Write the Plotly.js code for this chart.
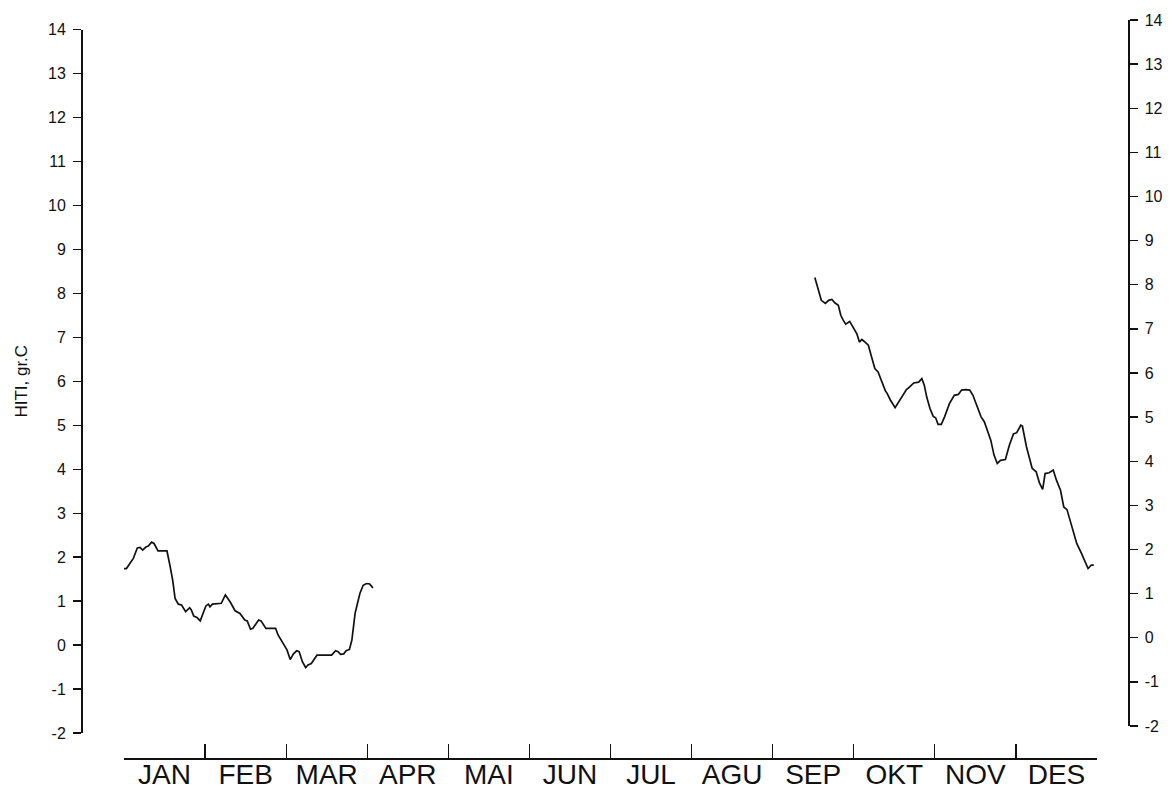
<!DOCTYPE html>
<html>
<head>
<meta charset="utf-8">
<script src="https://cdn.plot.ly/plotly-3.0.1.min.js"></script>
<style>
  html, body { margin: 0; padding: 0; background: #fff; }
  #chart { width: 1173px; height: 791px; }
</style>
</head>
<body>
<div id="chart"></div>
<script>
// Month labels (Norwegian)
const months = ["JAN", "FEB", "MAR", "APR", "MAI", "JUN", "JUL", "AGU", "SEP", "OKT", "NOV", "DES"];

// Y tick values and labels
const yTickVals = [-2, -1, 0, 1, 2, 3, 4, 5, 6, 7, 8, 9, 10, 11, 12, 13, 14];
const yTickText = ["-2", "-1", "0", "1", "2", "3", "4", "5", "6", "7", "8", "9", "10", "11", "12", "13", "14"];

// Segment 1: January - March (x in months from 1 Jan, y = HITI gr.C)
const winterX = [0.00, 0.03, 0.115, 0.164, 0.197, 0.23, 0.27, 0.30, 0.34, 0.37, 0.42, 0.53, 0.57, 0.60, 0.63, 0.67, 0.71, 0.76, 0.81, 0.83, 0.86, 0.90, 0.94, 0.98, 1.01, 1.04, 1.06, 1.09, 1.20, 1.25, 1.31, 1.37, 1.43, 1.49, 1.52, 1.56, 1.59, 1.66, 1.69, 1.75, 1.87, 1.90, 1.99, 2.01, 2.05, 2.09, 2.13, 2.16, 2.20, 2.24, 2.27, 2.31, 2.38, 2.56, 2.61, 2.64, 2.67, 2.71, 2.74, 2.78, 2.81, 2.83, 2.85, 2.88, 2.91, 2.95, 2.99, 3.03, 3.07];
const winterY = [1.74, 1.74, 1.97, 2.21, 2.22, 2.16, 2.23, 2.25, 2.34, 2.31, 2.14, 2.14, 1.78, 1.48, 1.06, 0.93, 0.91, 0.76, 0.85, 0.80, 0.66, 0.63, 0.55, 0.72, 0.89, 0.93, 0.87, 0.93, 0.95, 1.14, 0.98, 0.78, 0.72, 0.57, 0.55, 0.36, 0.38, 0.57, 0.55, 0.38, 0.38, 0.23, -0.04, -0.11, -0.33, -0.20, -0.13, -0.15, -0.38, -0.51, -0.45, -0.42, -0.23, -0.23, -0.13, -0.15, -0.21, -0.20, -0.13, -0.10, 0.11, 0.42, 0.72, 0.95, 1.18, 1.36, 1.40, 1.39, 1.30];

// Segment 2: mid-September - December
const autumnX = [8.52, 8.56, 8.60, 8.65, 8.69, 8.73, 8.77, 8.81, 8.84, 8.87, 8.90, 8.95, 8.99, 9.04, 9.07, 9.10, 9.14, 9.18, 9.22, 9.26, 9.30, 9.35, 9.39, 9.41, 9.45, 9.51, 9.57, 9.65, 9.69, 9.74, 9.80, 9.84, 9.87, 9.90, 9.94, 9.98, 10.01, 10.04, 10.08, 10.12, 10.18, 10.24, 10.29, 10.33, 10.38, 10.43, 10.47, 10.52, 10.57, 10.61, 10.65, 10.69, 10.73, 10.77, 10.81, 10.87, 10.92, 10.97, 11.01, 11.06, 11.08, 11.13, 11.20, 11.25, 11.29, 11.33, 11.36, 11.41, 11.46, 11.50, 11.55, 11.59, 11.63, 11.69, 11.75, 11.81, 11.85, 11.89, 11.93, 11.96];
const autumnY = [8.36, 8.07, 7.84, 7.77, 7.84, 7.86, 7.78, 7.73, 7.50, 7.39, 7.30, 7.36, 7.23, 7.07, 6.89, 6.95, 6.89, 6.82, 6.55, 6.29, 6.21, 5.95, 5.78, 5.73, 5.58, 5.40, 5.57, 5.81, 5.87, 5.96, 5.98, 6.06, 5.91, 5.64, 5.38, 5.20, 5.17, 5.02, 5.02, 5.19, 5.49, 5.68, 5.70, 5.80, 5.81, 5.80, 5.68, 5.42, 5.19, 5.08, 4.85, 4.66, 4.32, 4.13, 4.20, 4.22, 4.55, 4.80, 4.83, 5.00, 4.98, 4.51, 4.02, 3.94, 3.69, 3.54, 3.90, 3.92, 3.98, 3.75, 3.52, 3.14, 3.08, 2.69, 2.31, 2.08, 1.89, 1.74, 1.82, 1.82];

const W = 1173, H = 791;
const px = v => v / W;           // pixel -> paper x
const py = v => 1 - v / H;       // pixel -> paper y

const monthEdges = months.map((m, i) => i).concat([months.length]);
const monthCenters = months.map((m, i) => i + 0.5);

const lineStyle = { color: "#111", width: 1.7 };
const fontFam = "Liberation Sans, Arial, Helvetica, sans-serif";

const traces = [
  { x: winterX, y: winterY, xaxis: "x", yaxis: "y", mode: "lines", line: lineStyle, hoverinfo: "skip", showlegend: false },
  { x: autumnX, y: autumnY, xaxis: "x", yaxis: "y", mode: "lines", line: lineStyle, hoverinfo: "skip", showlegend: false },
  // carriers for the right axis and the month label axis (no marks)
  { x: [], y: [], xaxis: "x2", yaxis: "y2", mode: "lines", showlegend: false, hoverinfo: "skip" },
  { x: [], y: [], xaxis: "x3", yaxis: "y", mode: "lines", showlegend: false, hoverinfo: "skip" }
];

const layout = {
  width: W, height: H,
  margin: { l: 0, r: 0, t: 0, b: 0, pad: 0 },
  paper_bgcolor: "#fff", plot_bgcolor: "rgba(0,0,0,0)",
  showlegend: false,
  font: { family: fontFam, color: "#111" },
  xaxis: {
    domain: [px(124), px(1097)],
    range: [0, 12],
    anchor: "free", position: py(758),
    tickmode: "array", tickvals: monthEdges, ticktext: monthEdges.map(() => ""),
    ticks: "inside", ticklen: 14, tickwidth: 1.2, tickcolor: "#111",
    showline: true, linecolor: "#111", linewidth: 1.5,
    showgrid: false, zeroline: false, fixedrange: true
  },
  xaxis3: {
    overlaying: "x",
    range: [0, 12],
    anchor: "free", position: py(758),
    tickmode: "array", tickvals: monthCenters, ticktext: months,
    ticks: "", showline: false, showgrid: false, zeroline: false,
    tickfont: { size: 28, family: fontFam, color: "#111" },
    ticklabelstandoff: -3,
    fixedrange: true
  },
  yaxis: {
    domain: [py(733), py(29.5)],
    range: [-2, 14],
    anchor: "free", position: px(81), side: "left",
    tickmode: "array", tickvals: yTickVals, ticktext: yTickText,
    ticks: "outside", ticklen: 8, tickwidth: 1.3, tickcolor: "#111",
    tickfont: { size: 16, family: fontFam, color: "#111" },
    ticklabelstandoff: 4,
    showline: true, linecolor: "#111", linewidth: 1.5,
    showgrid: false, zeroline: false, fixedrange: true,
    title: { text: "HITI, gr.C", font: { size: 17, family: fontFam, color: "#111" }, standoff: 14 }
  },
  xaxis2: {
    domain: [px(124), px(1097)], range: [0, 12], anchor: "y2", visible: false, fixedrange: true
  },
  yaxis2: {
    domain: [py(726), py(20)],
    range: [-2, 14],
    anchor: "free", position: px(1128), side: "right",
    tickmode: "array", tickvals: yTickVals, ticktext: yTickText,
    ticks: "outside", ticklen: 8, tickwidth: 1.3, tickcolor: "#111",
    tickfont: { size: 16, family: fontFam, color: "#111" },
    ticklabelstandoff: 4,
    showline: true, linecolor: "#111", linewidth: 1.5,
    showgrid: false, zeroline: false, fixedrange: true
  }
};

Plotly.newPlot("chart", traces, layout, { staticPlot: true, displayModeBar: false });
</script>
</body>
</html>
